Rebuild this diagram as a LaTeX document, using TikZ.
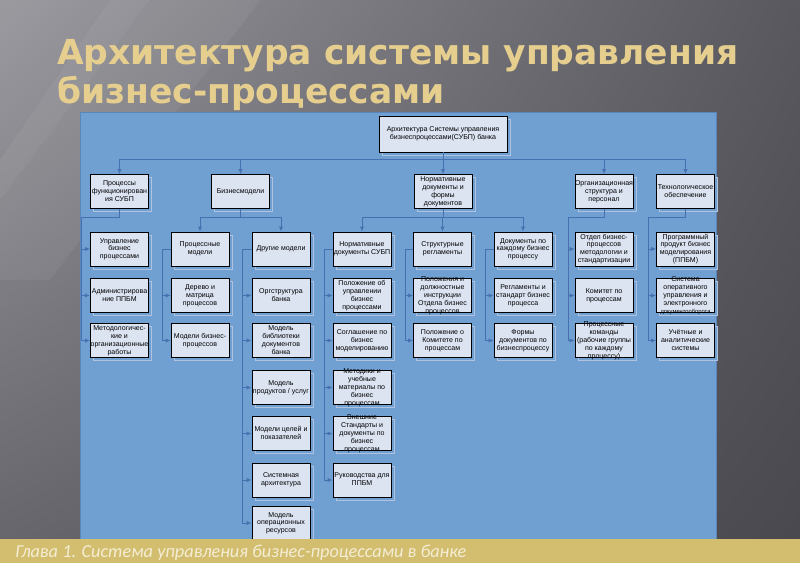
\documentclass[tikz,border=0pt]{standalone}
\usepackage{fontspec}
\setmainfont{Liberation Sans}
\newfontfamily\titlefont{DejaVu Sans}
\newfontfamily\footfont{Carlito}
\usetikzlibrary{arrows.meta,shadows,shadings}
\definecolor{slideul}{RGB}{150,150,156}
\definecolor{slideur}{RGB}{88,88,94}
\definecolor{slidell}{RGB}{100,100,106}
\definecolor{slidelr}{RGB}{72,72,78}
\definecolor{panel}{HTML}{70A0D2}
\definecolor{panelline}{HTML}{5A86BB}
\definecolor{boxfill}{HTML}{DCE4F2}
\definecolor{wire}{HTML}{4670AF}
\definecolor{shd}{HTML}{B0C2DE}
\definecolor{gold}{HTML}{E6CF8E}
\definecolor{band}{HTML}{D2BE6E}
\definecolor{foot}{HTML}{F4EDD4}
% text of a box, allowed to run over its frame
\newcommand{\bt}[1]{\makebox[0pt]{\raisebox{-.3em}[0pt][0pt]{\begin{tabular}{@{}c@{}}#1\end{tabular}}}}
\begin{document}
\begin{tikzpicture}[x=0.025cm,y=-0.025cm,>={Latex[length=3.5pt,width=3pt]}]
\tikzstyle{unit}= [rectangle,draw=black,line width=0.6pt,fill=boxfill,
	minimum width=1.45cm,minimum height=0.85cm,inner sep=0pt,
	font=\fontsize{5}{5.6}\selectfont,
	copy shadow={shadow xshift=2pt,shadow yshift=-2pt,draw=shd,fill=panel,line width=0.4pt}]
\tikzstyle{feed}= [->,wire,line width=0.55pt]
\tikzstyle{headline}= [anchor=base west,inner sep=0pt,text=gold,
	font=\titlefont\bfseries\fontsize{24.5}{29}\selectfont]

\useasboundingbox (0,0) rectangle (800,563);
% slide
\shade[upper left=slideul,upper right=slideur,lower left=slidell,lower right=slidelr]
	(0,0) rectangle (800,563);
\fill[white,opacity=0.05] (110,0) -- (260,0) -- (50,280) -- (0,280) -- (0,160) -- cycle;
\fill[white,opacity=0.04] (0,0) -- (150,0) -- (0,200) -- cycle;
\fill[panel,draw=panelline,line width=0.6pt] (80,112) rectangle (716,539);

\node[headline] (t1) at (57,65) {Архитектура системы управления};
\node[headline] (t2) at (57,104) {бизнес-процессами};

\path
	(443,134) node[unit,minimum width=3.2cm,minimum height=0.9cm] (top) {\bt{Архитектура Системы управления\\бизнеспроцессами(СУБП) банка}}
	(119.5,191.5) node[unit] (p1) {\bt{Процессы\\функционирован\\ия СУБП}}
	(240.5,191.5) node[unit] (bm) {\bt{Бизнесмодели}}
	(443,191.5) node[unit] (nd) {\bt{Нормативные\\документы и\\формы\\документов}}
	(604,191.5) node[unit] (os) {\bt{Организационная\\структура и\\персонал}}
	(685.5,191.5) node[unit] (to) {\bt{Технологическое\\обеспечение}}
;
\path
	(119.5,249) node[unit] (p11) {\bt{Управление\\бизнес\\процессами}}
	(119.5,295.5) node[unit] (p12) {\bt{Администрирова\\ние ППБМ}}
	(119.5,340.5) node[unit] (p13) {\bt{Методологичес-\\кие и\\организационные\\работы}}
	(200,249) node[unit] (pm) {\bt{Процессные\\модели}}
	(200,295.5) node[unit] (pm1) {\bt{Дерево и\\матрица\\процессов}}
	(200,340.5) node[unit] (pm2) {\bt{Модели бизнес-\\процессов}}
	(281,249) node[unit] (dm) {\bt{Другие модели}}
	(281,295.5) node[unit] (dm1) {\bt{Оргструктура\\банка}}
	(281,340.5) node[unit] (dm2) {\bt{Модель\\библиотеки\\документов\\банка}}
	(281,387.5) node[unit] (dm3) {\bt{Модель\\продуктов / услуг}}
	(281,433.5) node[unit] (dm4) {\bt{Модели целей и\\показателей}}
	(281,480) node[unit] (dm5) {\bt{Системная\\архитектура}}
	(281,523) node[unit] (dm6) {\bt{Модель\\операционных\\ресурсов}}
	(362,249) node[unit] (ns) {\bt{Нормативные\\документы СУБП}}
	(362,295.5) node[unit] (ns1) {\bt{Положение об\\управлении\\бизнес\\процессами}}
	(362,340.5) node[unit] (ns2) {\bt{Соглашение по\\бизнес\\моделированию}}
	(362,387.5) node[unit] (ns3) {\bt{Методики и\\учебные\\материалы по\\бизнес\\процессам}}
	(362,433.5) node[unit] (ns4) {\bt{Внешние\\Стандарты и\\документы по\\бизнес\\процессам}}
	(362,480) node[unit] (ns5) {\bt{Руководства для\\ППБМ}}
	(442.5,249) node[unit] (sr) {\bt{Структурные\\регламенты}}
	(442.5,295.5) node[unit] (sr1) {\bt{Положения и\\должностные\\инструкции\\Отдела бизнес\\процессов}}
	(442.5,340.5) node[unit] (sr2) {\bt{Положение о\\Комитете по\\процессам}}
	(523,249) node[unit] (dp) {\bt{Документы по\\каждому бизнес\\процессу}}
	(523,295.5) node[unit] (dp1) {\bt{Регламенты и\\стандарт бизнес\\процесса}}
	(523,340.5) node[unit] (dp2) {\bt{Формы\\документов по\\бизнеспроцессу}}
	(604,249) node[unit] (os1) {\bt{Отдел бизнес-\\процессов\\методологии и\\стандартизации}}
	(604,295.5) node[unit] (os2) {\bt{Комитет по\\процессам}}
	(604,340.5) node[unit] (os3) {\bt{Процессные\\команды\\(рабочие группы\\по каждому\\процессу)}}
	(685.5,249) node[unit] (to1) {\bt{Программный\\продукт бизнес\\моделирования\\(ППБМ)}}
	(685.5,295.5) node[unit] (to2) {\bt{Система\\оперативного\\управления и\\электронного\\{\fontsize{4.1}{5}\selectfont документооборота}}}
	(685.5,340.5) node[unit] (to3) {\bt{Учётные и\\аналитические\\системы}}
;

\draw[feed] (top.south) -- (nd.north);
\draw[feed] (top.south) -- ++(0,7) -| (p1.north);
\draw[feed] (top.south) -- ++(0,7) -| (bm.north);
\draw[feed] (top.south) -- ++(0,7) -| (os.north);
\draw[feed] (top.south) -- ++(0,7) -| (to.north);

\draw[feed] (p1.south) -- ++(0,8) -- ++(-38,0) |- (p11.west);
\draw[feed] (p1.south) -- ++(0,8) -- ++(-38,0) |- (p12.west);
\draw[feed] (p1.south) -- ++(0,8) -- ++(-38,0) |- (p13.west);
\draw[feed] (bm.south) -- ++(0,8) -| (pm.north);
\draw[feed] (bm.south) -- ++(0,8) -| (dm.north);
\draw[feed] (nd.south) -- ++(0,8) -| (ns.north);
\draw[feed] (nd.south) -- ++(0,8) -| (sr.north);
\draw[feed] (nd.south) -- ++(0,8) -| (dp.north);
\draw[feed] (os.south) -- ++(0,8) -- ++(-36,0) |- (os1.west);
\draw[feed] (os.south) -- ++(0,8) -- ++(-36,0) |- (os2.west);
\draw[feed] (os.south) -- ++(0,8) -- ++(-36,0) |- (os3.west);
\draw[feed] (to.south) -- ++(0,8) -- ++(-37.5,0) |- (to1.west);
\draw[feed] (to.south) -- ++(0,8) -- ++(-37.5,0) |- (to2.west);
\draw[feed] (to.south) -- ++(0,8) -- ++(-37.5,0) |- (to3.west);

\draw[feed] (pm.west) -- ++(-8.5,0) |- (pm1.west);
\draw[feed] (pm.west) -- ++(-8.5,0) |- (pm2.west);
\draw[feed] (dm.west) -- ++(-9,0) |- (dm1.west);
\draw[feed] (dm.west) -- ++(-9,0) |- (dm2.west);
\draw[feed] (dm.west) -- ++(-9,0) |- (dm3.west);
\draw[feed] (dm.west) -- ++(-9,0) |- (dm4.west);
\draw[feed] (dm.west) -- ++(-9,0) |- (dm5.west);
\draw[feed] (dm.west) -- ++(-9,0) |- (dm6.west);
\draw[feed] (ns.west) -- ++(-8,0) |- (ns1.west);
\draw[feed] (ns.west) -- ++(-8,0) |- (ns2.west);
\draw[feed] (ns.west) -- ++(-8,0) |- (ns3.west);
\draw[feed] (ns.west) -- ++(-8,0) |- (ns4.west);
\draw[feed] (ns.west) -- ++(-8,0) |- (ns5.west);
\draw[feed] (sr.west) -- ++(-8,0) |- (sr1.west);
\draw[feed] (sr.west) -- ++(-8,0) |- (sr2.west);
\draw[feed] (dp.west) -- ++(-8,0) |- (dp1.west);
\draw[feed] (dp.west) -- ++(-8,0) |- (dp2.west);

% chapter band
\fill[band] (0,539) rectangle (800,563);
\node[anchor=base west,inner sep=0pt,text=foot,font=\footfont\itshape\fontsize{13}{16}\selectfont] (ft) at (15,557) {Глава 1. Система управления бизнес-процессами в банке};
\end{tikzpicture}
\end{document}
